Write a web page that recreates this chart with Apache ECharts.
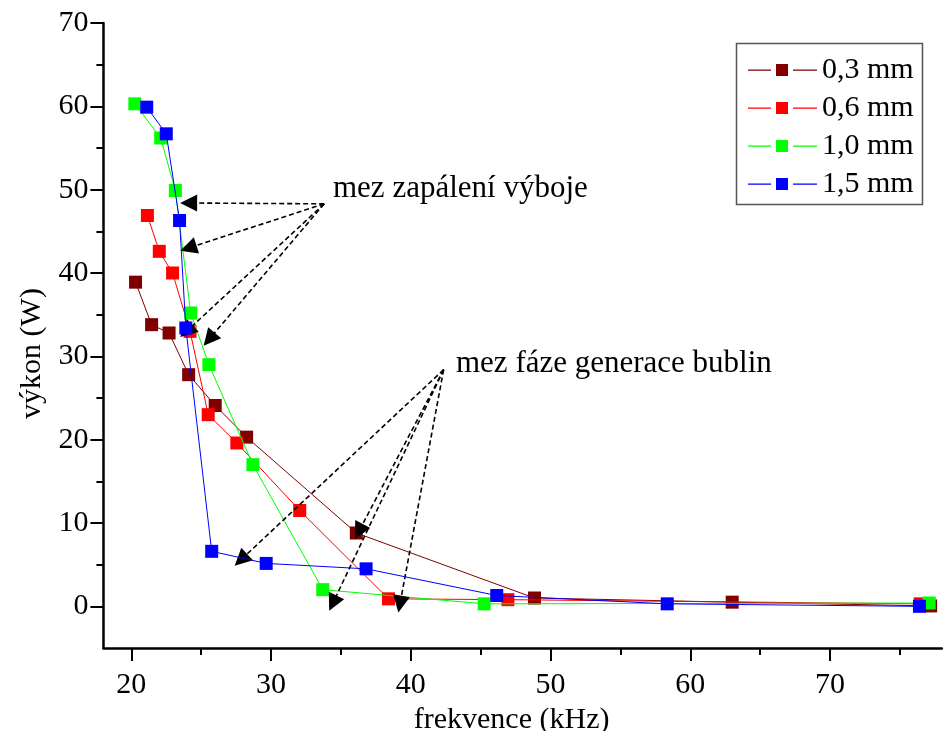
<!DOCTYPE html>
<html>
<head>
<meta charset="utf-8">
<script src="https://cdn.jsdelivr.net/npm/echarts@6/dist/echarts.min.js"></script>
<style>
html,body{margin:0;padding:0;background:#fff;}
#chart{width:945px;height:731px;}
</style>
</head>
<body>
<div id="chart"></div>
<script>
// ---- data ----
const seriesNames = ['0,3 mm', '0,6 mm', '1,0 mm', '1,5 mm'];
const x03 = [20.3, 21.45, 22.7, 24.1, 26.0, 28.25, 36.1, 48.85, 63.0, 77.2];
const y03 = [38.9, 33.8, 32.8, 27.8, 24.1, 20.3, 8.8, 1.0, 0.5, 0.05];
const x06 = [21.15, 22.0, 22.95, 24.2, 25.5, 27.55, 32.05, 38.4, 46.95, 76.45];
const y06 = [46.9, 42.6, 40.0, 33.0, 23.0, 19.6, 11.5, 0.9, 0.8, 0.3];
const x10 = [20.25, 22.1, 23.15, 24.25, 25.55, 28.7, 33.7, 45.25, 77.1];
const y10 = [60.3, 56.2, 49.9, 35.2, 29.0, 17.0, 2.0, 0.3, 0.4];
const x15 = [21.1, 22.5, 23.45, 23.9, 25.75, 29.65, 36.8, 46.15, 58.35, 76.4];
const y15 = [59.9, 56.7, 46.3, 33.4, 6.6, 5.15, 4.5, 1.3, 0.3, 0.0];

const xTicks = [20, 30, 40, 50, 60, 70];
const xMinorTicks = [25, 35, 45, 55, 65, 75];
const yTicks = [0, 10, 20, 30, 40, 50, 60, 70];
const yMinorTicks = [5, 15, 25, 35, 45, 55, 65];

// annotation arrows: [start, end (arrowhead centre)] in data units
const annot1Text = 'mez zapálení výboje';
const annot1From = [33.8, 48.3];
const annot1To = [[24.1, 48.4], [24.08, 43.0], [23.95, 33.0], [25.57, 32.05]];
const annot2Text = 'mez fáze generace bublin';
const annot2From = [42.35, 28.4];
const annot2To = [[27.84, 5.58], [36.28, 8.98], [34.42, 0.38], [39.22, 0.26]];

const colors = ['#800000', '#ff0000', '#00ff00', '#0000ff'];
const FONT = "'Liberation Serif', 'Times New Roman', serif";
// legend icon: line — square — line (Origin style)
const LEGEND_ICON = 'path://M0,5.5h23v1.2h-23Z M28,0h12v12h-12Z M45,5.5h24v1.2h-24Z';

function pairs(xs, ys) { return xs.map((v, i) => [v, ys[i]]); }
const allData = [pairs(x03, y03), pairs(x06, y06), pairs(x10, y10), pairs(x15, y15)];

const chart = echarts.init(document.getElementById('chart'));

const series = seriesNames.map((name, i) => ({
  name: name,
  type: 'line',
  data: allData[i],
  xAxisIndex: 0,
  yAxisIndex: 0,
  symbol: 'rect',
  symbolSize: 13,
  showAllSymbol: true,
  color: colors[i],
  lineStyle: { width: 1, color: colors[i] },
  itemStyle: { color: colors[i] },
  emphasis: { disabled: true },
  z: 2 + i
}));

function arrowData(from, tos) {
  return tos.map(t => [{ coord: from, symbol: 'none' }, { coord: t, symbol: 'triangle', symbolSize: 17 }]);
}

series.push({
  name: 'annotations',
  type: 'line',
  data: [],
  xAxisIndex: 0,
  yAxisIndex: 0,
  z: 10,
  markLine: {
    silent: true,
    symbol: ['none', 'triangle'],
    symbolSize: 17,
    label: { show: false },
    emphasis: { disabled: true },
    lineStyle: { color: '#000', width: 1.6, type: [5, 3] },
    itemStyle: { color: '#000' },
    data: arrowData(annot1From, annot1To).concat(arrowData(annot2From, annot2To))
  }
});

const axisCommon = {
  type: 'value',
  splitLine: { show: false },
};

chart.setOption({
  animation: false,
  backgroundColor: '#fff',
  grid: { left: 103.4, right: 3.2, top: 23, bottom: 83, containLabel: false, outerBoundsMode: 'none' },
  legend: {
    data: seriesNames.map(n => ({ name: n, icon: LEGEND_ICON })),
    orient: 'vertical',
    left: 737,
    top: 44,
    itemWidth: 69,
    itemHeight: 12,
    itemGap: 8,
    padding: [11, 8, 6, 11],
    borderWidth: 0,
    textStyle: { fontFamily: FONT, fontSize: 30, color: '#000' },
    selectedMode: false
  },
  xAxis: [
    Object.assign({}, axisCommon, {
      min: 18, max: 78,
      position: 'bottom',
      name: 'frekvence (kHz)',
      nameLocation: 'middle',
      nameGap: 55,
      nameTextStyle: { fontFamily: FONT, fontSize: 30, color: '#000', padding: [0, 22, 0, 0] },
      axisLine: { show: true, onZero: false, lineStyle: { color: '#000', width: 2.5 } },
      axisTick: { show: true, customValues: xTicks, length: 13, lineStyle: { color: '#000', width: 2 } },
      axisLabel: { customValues: xTicks, margin: 22, fontFamily: FONT, fontSize: 30, color: '#000' }
    }),
    Object.assign({}, axisCommon, {
      min: 18, max: 78,
      position: 'bottom',
      offset: 0,
      axisLine: { show: false, onZero: false },
      axisTick: { show: true, customValues: xMinorTicks, length: 7, lineStyle: { color: '#000', width: 2 } },
      axisLabel: { show: false }
    })
  ],
  yAxis: [
    Object.assign({}, axisCommon, {
      min: -5, max: 70,
      position: 'left',
      name: 'výkon (W)',
      nameLocation: 'middle',
      nameGap: 55,
      nameTextStyle: { fontFamily: FONT, fontSize: 30, color: '#000', padding: [0, 36, 0, 0] },
      axisLine: { show: true, onZero: false, lineStyle: { color: '#000', width: 2.5 } },
      axisTick: { show: true, customValues: yTicks, length: 13, lineStyle: { color: '#000', width: 2 } },
      axisLabel: { customValues: yTicks, margin: 15, fontFamily: FONT, fontSize: 30, color: '#000' }
    }),
    Object.assign({}, axisCommon, {
      min: -5, max: 70,
      position: 'left',
      offset: 0,
      axisLine: { show: false, onZero: false },
      axisTick: { show: true, customValues: yMinorTicks, length: 7, lineStyle: { color: '#000', width: 2 } },
      axisLabel: { show: false }
    })
  ],
  graphic: [
    { type: 'rect', z: 20, silent: true,
      shape: { x: 736.5, y: 43.5, width: 186, height: 161 },
      style: { fill: 'none', stroke: '#555', lineWidth: 1.5 } },
    { type: 'text', x: 333, y: 189, z: 20,
      style: { text: annot1Text, font: "31px 'Liberation Serif', 'Times New Roman', serif", fill: '#000', verticalAlign: 'middle', align: 'left' } },
    { type: 'text', x: 456, y: 364, z: 20,
      style: { text: annot2Text, font: "31px 'Liberation Serif', 'Times New Roman', serif", fill: '#000', verticalAlign: 'middle', align: 'left' } }
  ],
  series: series
});
</script>
</body>
</html>
